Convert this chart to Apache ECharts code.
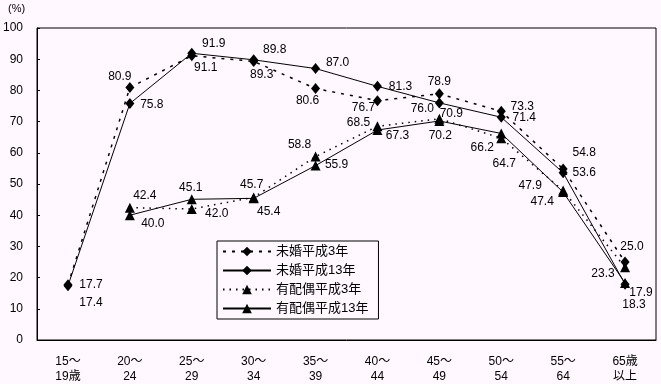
<!DOCTYPE html>
<html><head><meta charset="utf-8">
<script src="https://cdn.jsdelivr.net/npm/echarts@6/dist/echarts.min.js"></script>
<style>html,body{margin:0;padding:0;background:#fff8ff}#c{width:661px;height:384px}</style>
</head><body><div id="c"></div>
<script>
var categories = ['15～\n19歳','20～\n24','25～\n29','30～\n34','35～\n39','40～\n44','45～\n49','50～\n54','55～\n64','65歳\n以上'];
var seriesNames = ['未婚平成3年','未婚平成13年','有配偶平成3年','有配偶平成13年'];
var mikon3  = [17.7, 80.9, 91.1, 89.3, 80.6, 76.7, 78.9, 73.3, 54.8, 25.0];
var mikon13 = [17.4, 75.8, 91.9, 89.8, 87.0, 81.3, 76.0, 71.4, 53.6, 17.9];
var haigu3  = [null, 42.4, 42.0, 45.7, 58.8, 68.5, 70.9, 64.7, 47.9, 23.3];
var haigu13 = [null, 40.0, 45.1, 45.4, 55.9, 67.3, 70.2, 66.2, 47.4, 18.3];
var yTicks = [0,10,20,30,40,50,60,70,80,90,100];

// label offsets (px, from marker centre)
var off_m3  = [[23,0],[-10,-11],[14,12],[8,13],[-8,12],[-14,7],[0,-12],[21,-5],[21,-16],[7,-15]];
var off_m13 = [[23,17],[22,1],[22,-10],[21,-10],[22,-6],[23,0],[-17,6],[23,0],[21,0],[16,9]];
var off_h3  = [null,[15,-12],[25,5],[-2,-13],[-16,-12],[-19,-4],[12,-5],[3,26],[-33,-5],[-22,6]];
var off_h13 = [null,[23,8],[-1,-12],[15,13],[21,-1],[20,6],[1,15],[-19,14],[-21,10],[9,22]];

var FONT = "'Liberation Sans','Noto Sans CJK JP',sans-serif";
function build(vals, offs){
  return vals.map(function(v,i){
    if(v===null) return null;
    return {value:v, label:{offset:offs[i]}};
  });
}
function mk(name, vals, offs, symbol, lineType, lineWidth){
  return {
    name:name, type:'line', data:build(vals, offs),
    symbol:symbol, symbolSize: symbol==='diamond'?[9,11]:[10,10],
    itemStyle:{color:'#000'},
    lineStyle:{color:'#000', width:lineWidth, type:lineType},
    label:{show:true, position:'inside', align:'center', verticalAlign:'middle',
      color:'#000', fontSize:12, fontFamily:FONT,
      formatter:function(p){return p.value.toFixed(1);}},
    emphasis:{disabled:true}, animation:false
  };
}
var chart = echarts.init(document.getElementById('c'));
chart.setOption({
  backgroundColor:'#fff8ff',
  animation:false,
  grid:{left:36, right:5, top:28, bottom:42, show:true, borderColor:'#000', borderWidth:1, backgroundColor:'transparent'},
  graphic:[{type:'text', left:8, top:3, style:{text:'(%)', font:'11px '+FONT, fill:'#000'}}],
  legend:{
    orient:'vertical', left:217, top:241, width:146,
    data:seriesNames, itemWidth:48, itemHeight:12, itemGap:6,
    borderColor:'#000', borderWidth:1, padding:[4,10,4,5],
    textStyle:{color:'#000', fontSize:13, fontFamily:FONT}
  },
  xAxis:{type:'category', data:categories, boundaryGap:true,
    axisLine:{lineStyle:{color:'#000', width:1}},
    axisTick:{inside:true, length:4, lineStyle:{color:'#000'}},
    axisLabel:{color:'#000', fontSize:12, fontFamily:FONT, lineHeight:15, margin:14, interval:0}
  },
  yAxis:{type:'value', min:yTicks[0], max:yTicks[yTicks.length-1], interval:10,
    axisLine:{show:true, lineStyle:{color:'#000', width:1}},
    axisTick:{show:true, inside:true, length:3, lineStyle:{color:'#000'}},
    splitLine:{show:false},
    axisLabel:{color:'#000', fontSize:12, fontFamily:FONT, margin:14}
  },
  series:[
    mk(seriesNames[0], mikon3, off_m3, 'diamond', [3,6], 1.5),
    mk(seriesNames[1], mikon13, off_m13, 'diamond', 'solid', 1),
    mk(seriesNames[2], haigu3, off_h3, 'triangle', [1.5,5], 1.5),
    mk(seriesNames[3], haigu13, off_h13, 'triangle', 'solid', 1)
  ]
});
</script></body></html>
